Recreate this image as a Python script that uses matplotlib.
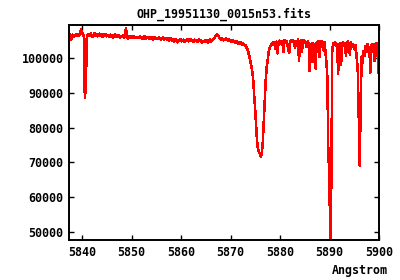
import numpy as np
import matplotlib
matplotlib.use("Agg")
import matplotlib.pyplot as plt

# Spectrum sampled on a regular wavelength grid (start, step in Angstrom)
wave_start = 5837.4
wave_step = 0.1976

flux = [
    106600, 106900, 105400, 106300, 106800, 106200, 106700, 107000, 106500, 106900,
    106600, 107000, 108300, 107500, 107000, 106400, 88700, 91300, 106200, 106800,
    106900, 106400, 107200, 106700, 106100, 106800, 107300, 106500, 106900, 106300,
    106700, 107100, 106400, 106800, 106200, 106900, 106600, 107000, 106300, 106700,
    106500, 106100, 106800, 106300, 106700, 106000, 106400, 106900, 106200, 106600,
    106300, 106700, 105900, 106500, 106100, 106600, 105800, 106300, 108600, 106900,
    105700, 106200, 106500, 105900, 106300, 106000, 106400, 105800, 106200, 106000,
    106100, 105800, 106300, 105900, 106200, 105600, 106000, 106300, 105700, 106100,
    105800, 106200, 105500, 106000, 105700, 106100, 105400, 105900, 106000, 105600,
    105900, 105500, 106100, 105700, 105300, 105800, 106000, 105400, 105700, 105900,
    105300, 105700, 105100, 105600, 105800, 105200, 105500, 104800, 105400, 105600,
    105000, 104600, 105300, 105100, 105500, 104900, 105200, 105400, 104800, 105300,
    105100, 105500, 104900, 105300, 105600, 105000, 105200, 104700, 105400, 105100,
    105300, 104800, 105100, 105500, 104900, 105200, 104600, 105000, 104700, 105300,
    104900, 105200, 104600, 105000, 105400, 104800, 105100, 105300, 105700, 106100,
    106500, 106900, 106600, 106200, 105800, 105400, 105900, 105600, 105200, 105500,
    105700, 105300, 105500, 105100, 105400, 104900, 105200, 104800, 105100, 104700,
    104500, 104900, 104300, 104700, 104100, 104600, 104400, 103900, 104200, 104000,
    103800, 103300, 102800, 102000, 100800, 99600, 98000, 96500, 94600, 90000,
    86000, 81000, 76500, 74000, 73100, 72500, 71700, 72600, 76000, 82000,
    88500, 94000, 97500, 99700, 101800, 103000, 103700, 104000, 104500, 103900,
    104600, 102600, 104800, 101400, 104500, 105100, 104200, 104700, 104900, 101800,
    105200, 104600, 105000, 104300, 102300, 101600, 104800, 105300, 104700, 105100,
    104500, 103000, 105000, 104600, 105400, 99300, 104800, 105200, 101800, 104900,
    105300, 104700, 104300, 103200, 104800, 104400, 96300, 104000, 98900, 104500,
    98900, 104200, 97100, 104600, 103800, 104900, 100400, 104300, 105000, 104500,
    102300, 104600, 102000, 99000, 94600, 72000, 67000, 46000, 63000, 102500,
    104300, 103800, 104600, 103500, 104100, 95600, 103900, 104400, 98100, 104000,
    104600, 103700, 104300, 100700, 104100, 104800, 103900, 101100, 104500, 103800,
    104000, 103200, 102600, 103800, 100000, 97400, 84600, 69100, 85000, 100500,
    98800, 102000, 100600, 103500, 101800, 104000, 103300, 102500, 95900, 103700,
    104200, 103600, 99200, 104000, 104400, 103600, 98000, 94000, 95500,
]

title = "OHP_19951130_0015n53.fits"
xlabel = "Angstrom"
xticks = [5840, 5850, 5860, 5870, 5880, 5890, 5900]
yticks = [50000, 60000, 70000, 80000, 90000, 100000]
xlim = (5837.4, 5900.0)
ylim = (47640, 109600)

wave = wave_start + wave_step * np.arange(len(flux))

font = {"family": "DejaVu Sans Mono", "weight": "bold", "size": 8.4}

fig = plt.figure(figsize=(4.0, 2.8), dpi=100)
ax = fig.add_axes([0.173, 0.1429, 0.9475 - 0.173, 0.9107 - 0.1429])
ax.plot(wave, flux, color="#ff0000", lw=1.1, antialiased=False)
ax.set_xlim(*xlim)
ax.set_ylim(*ylim)
ax.set_xticks(xticks)
ax.set_yticks(yticks)
ax.set_xticklabels([str(v) for v in xticks], fontdict=font)
ax.set_yticklabels([str(v) for v in yticks], fontdict=font)
ax.tick_params(direction="in", length=3.5, width=1.0, top=True, right=True, pad=4)
for s in ax.spines.values():
    s.set_linewidth(1.4)
fig.text(0.56, 0.95, title, ha="center", va="center", fontdict=font)
fig.text(0.90, 0.035, xlabel, ha="center", va="center", fontdict=font)
fig.savefig("out.png", dpi=100)
